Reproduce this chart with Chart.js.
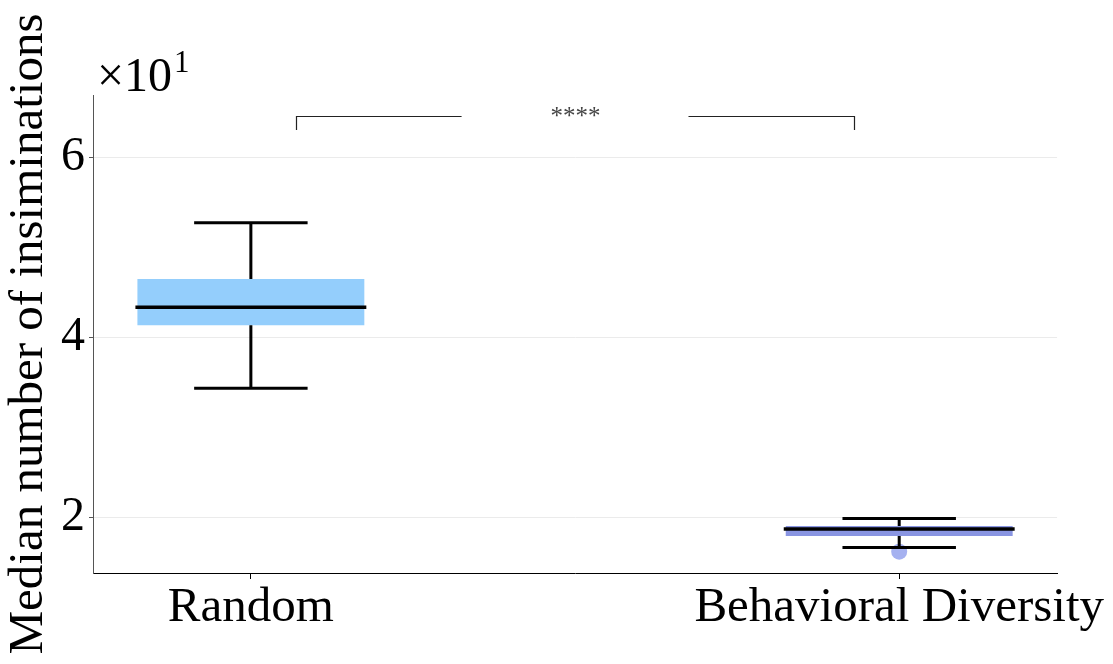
<!DOCTYPE html>
<html>
<head>
<meta charset="utf-8">
<script src="https://cdn.jsdelivr.net/npm/chart.js@4.4.0/dist/chart.umd.min.js"></script>
<style>
    html, body { margin: 0; padding: 0; background: #fff; }
    #wrap { width: 1113px; height: 664px; }
</style>
</head>
<body>
<div id="wrap"><canvas id="boxChart" width="1113" height="664"></canvas></div>
<script>
// Box plot data (values x10)
const categories = ['Random', 'Behavioral Diversity'];
const whiskerLow = [3.43, 1.66];
const q1 = [4.13, 1.79];
const median = [4.33, 1.867];
const q3 = [4.645, 1.9];
const whiskerHigh = [5.27, 1.985];
const outliers = [{ x: 1, y: 1.615 }];
const yTicks = [2, 4, 6];
const sigLabel = '****';

const boxColors = ['#94cefc', '#8995e2'];
const serif = "'Liberation Serif', 'DejaVu Serif', serif";

// significance bracket, in axis units
const bracket = { from: 0.07, to: 0.93, gapFrom: 0.325, gapTo: 0.675, top: 6.455, drop: 6.3 };

Chart.defaults.font.family = serif;

// whiskers, caps and median on top of the floating bars
const whiskerPlugin = {
    id: 'whiskers',
    afterDatasetDraw(chart, args) {
        if (args.index !== 0) return;
        const ctx = chart.ctx;
        const y = chart.scales.y;
        ctx.save();
        ctx.strokeStyle = '#000';
        args.meta.data.forEach((bar, i) => {
            const cx = bar.x;
            const half = bar.width / 2;
            const cap = bar.width / 4;
            const yHi = y.getPixelForValue(whiskerHigh[i]);
            const yLo = y.getPixelForValue(whiskerLow[i]);
            const yQ3 = y.getPixelForValue(q3[i]);
            const yQ1 = y.getPixelForValue(q1[i]);
            const yMed = y.getPixelForValue(median[i]);

            ctx.lineWidth = 3;
            ctx.beginPath();
            ctx.moveTo(cx, yHi);
            ctx.lineTo(cx, yQ3);
            ctx.moveTo(cx, yQ1);
            ctx.lineTo(cx, yLo);
            ctx.moveTo(cx - cap, yHi);
            ctx.lineTo(cx + cap, yHi);
            ctx.moveTo(cx - cap, yLo);
            ctx.lineTo(cx + cap, yLo);
            ctx.stroke();

            ctx.lineWidth = 3.5;
            ctx.beginPath();
            ctx.moveTo(cx - half - 2, yMed);
            ctx.lineTo(cx + half + 2, yMed);
            ctx.stroke();
        });
        ctx.restore();
    },
    afterDraw(chart) {
        const ctx = chart.ctx;
        const x = chart.scales.x;
        const y = chart.scales.y;
        const area = chart.chartArea;
        ctx.save();

        // bracket
        const yTop = Math.round(y.getPixelForValue(bracket.top)) + 0.5;
        const yDrop = y.getPixelForValue(bracket.drop);
        const x1 = Math.round(x.getPixelForValue(bracket.from)) + 0.5;
        const x2 = Math.round(x.getPixelForValue(bracket.to)) + 0.5;
        ctx.strokeStyle = '#222';
        ctx.lineWidth = 1.2;
        ctx.beginPath();
        ctx.moveTo(x1, yDrop);
        ctx.lineTo(x1, yTop);
        ctx.lineTo(x.getPixelForValue(bracket.gapFrom), yTop);
        ctx.moveTo(x.getPixelForValue(bracket.gapTo), yTop);
        ctx.lineTo(x2, yTop);
        ctx.lineTo(x2, yDrop);
        ctx.stroke();

        ctx.fillStyle = '#444';
        ctx.font = '25px ' + serif;
        ctx.textAlign = 'center';
        ctx.textBaseline = 'alphabetic';
        ctx.fillText(sigLabel, (x1 + x2) / 2, yTop + 7);

        // axis multiplier
        ctx.fillStyle = '#000';
        ctx.textAlign = 'left';
        ctx.font = '48px ' + serif;
        const base = area.top - 4;
        ctx.fillText('\u00d710', area.left + 4, base);
        const w = ctx.measureText('\u00d710').width;
        ctx.font = '31px ' + serif;
        ctx.fillText('1', area.left + 6 + w, base - 19);
        ctx.restore();
    },
};

const ctx = document.getElementById('boxChart').getContext('2d');
new Chart(ctx, {
    type: 'bar',
    data: {
        datasets: [
            {
                label: 'IQR',
                data: categories.map((c, i) => ({ x: i, y: [q1[i], q3[i]] })),
                backgroundColor: boxColors,
                borderWidth: 0,
                barPercentage: 0.35,
                categoryPercentage: 1,
            },
            {
                type: 'scatter',
                label: 'Outliers',
                data: outliers,
                pointRadius: 8,
                pointBackgroundColor: 'rgba(143,157,236,0.8)',
                pointBorderWidth: 0,
            },
        ],
    },
    options: {
        responsive: false,
        animation: false,
        layout: { padding: { top: 95, right: 55, left: 0, bottom: 0 } },
        plugins: {
            legend: { display: false },
            tooltip: { enabled: false },
        },
        scales: {
            x: {
                type: 'linear',
                offset: false,
                min: -0.2435,
                max: 1.2435,
                afterBuildTicks: (axis) => {
                    axis.ticks = categories.map((c, i) => ({ value: i }));
                },
                afterFit: (axis) => {
                    axis.height = 91;
                },
                ticks: {
                    callback: (v) => categories[v],
                    color: '#000',
                    font: { size: 49 },
                    maxRotation: 0,
                    autoSkip: false,
                    padding: 0,
                },
                grid: {
                    offset: false,
                    drawOnChartArea: false,
                    tickLength: 6,
                    tickColor: '#000',
                },
                border: { color: '#000', width: 1 },
            },
            y: {
                min: 1.378,
                max: 6.69,
                afterBuildTicks: (axis) => {
                    axis.ticks = yTicks.map((v) => ({ value: v }));
                },
                afterFit: (axis) => {
                    axis.width = 93;
                },
                ticks: {
                    callback: (v) => String(v),
                    color: '#000',
                    font: { size: 48 },
                    padding: 4,
                },
                grid: {
                    color: '#ebebeb',
                    tickColor: '#555',
                    tickLength: 4,
                },
                border: { color: '#555', width: 1 },
                title: {
                    display: true,
                    text: 'Median number of insiminations',
                    color: '#000',
                    font: { size: 49 },
                    padding: 0,
                },
            },
        },
    },
    plugins: [whiskerPlugin],
});
</script>
</body>
</html>
